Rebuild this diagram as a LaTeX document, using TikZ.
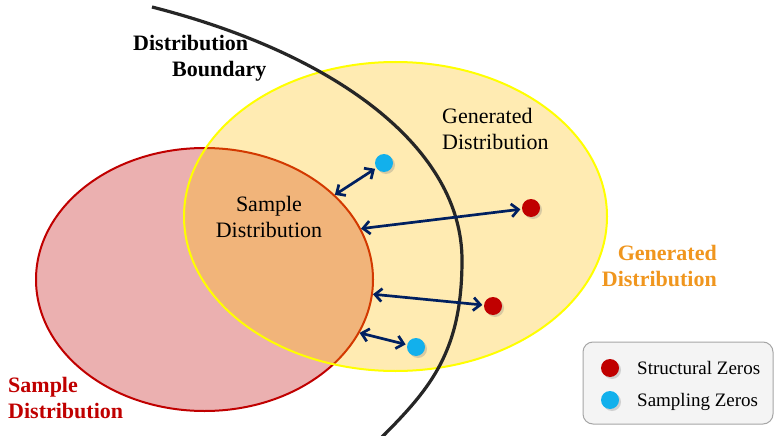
\documentclass[tikz,border=0pt]{standalone}
\usepackage{fontspec}
\setmainfont{Liberation Serif}
\usetikzlibrary{shapes.geometric,arrows.meta,shadows}

\definecolor{samplefill}{RGB}{235,176,176}
\definecolor{samplered}{RGB}{192,0,0}
\definecolor{genfill}{RGB}{255,192,0}
\definecolor{genline}{RGB}{255,255,0}
\definecolor{linknavy}{RGB}{0,32,96}
\definecolor{zeroblue}{RGB}{18,176,236}
\definecolor{labelorange}{RGB}{240,150,30}
\definecolor{boundaryline}{RGB}{38,38,38}
\definecolor{legendfill}{RGB}{244,244,244}
\definecolor{legendline}{RGB}{166,166,166}

\tikzset{
  region/.style={ellipse, inner sep=0pt, line width=2pt},
  zero/.style={circle, inner sep=0pt, minimum size=18pt,
    drop shadow={shadow xshift=2pt, shadow yshift=-2pt, opacity=0.3}},
  structural/.style={zero, fill=samplered},
  sampling/.style={zero, fill=zeroblue},
  link/.style={draw=linknavy, line width=2.7pt,
    {Straight Barb[length=7pt,width=13pt]}-{Straight Barb[length=7pt,width=13pt]},
    shorten >=1.5pt},
  txt/.style={inner sep=0pt, font=\fontsize{22}{26}\selectfont},
  boldtxt/.style={inner sep=0pt, font=\fontsize{22}{26}\selectfont\bfseries},
  legendtxt/.style={inner sep=0pt, font=\fontsize{19}{22}\selectfont},
}

\begin{document}
\begin{tikzpicture}[x=1pt,y=1pt]
  \fill[white] (0,0) rectangle (774,-436);
  \useasboundingbox (0,0) rectangle (774,-436);

  % the two distributions
  \node[region, draw=samplered, fill=samplefill,
        minimum width=337pt, minimum height=263pt] (sample) at (204.5,-279.5) {};
  \node[region, draw=genline, fill=genfill, fill opacity=0.3,
        minimum width=423pt, minimum height=309pt] (generated) at (395.5,-216.5) {};

  % distribution boundary
  \draw[boundaryline, line width=3.2pt]
    (152,-7) .. controls (340,-55) and (462,-150) .. (462,-260)
             .. controls (462,-350) and (432,-387) .. (382,-437);

  % zeros
  \node[sampling]   (b1) at (384,-163) {};
  \node[structural] (r1) at (531,-208) {};
  \node[structural] (r2) at (493,-306) {};
  \node[sampling]   (b2) at (416,-347) {};

  % links from the sample distribution to the zeros
  \draw[link] (sample.33)  -- (b1);
  \draw[link] (sample.18)  -- (r1);
  \draw[link] (sample.355) -- (r2);
  \draw[link] (sample.341) -- (b2);

  % labels
  \node[boldtxt, align=left, anchor=north west] (lbound) at (133,-35)
    {Distribution\\\hspace*{39pt}Boundary};
  \node[txt, align=left, anchor=north west] (lgenin) at (442,-108)
    {Generated\\Distribution};
  \node[txt, align=center, anchor=north] (lsampin) at (269,-196)
    {Sample\\Distribution};
  \node[boldtxt, text=samplered, align=left, anchor=north west] (lsamp) at (8,-377)
    {Sample\\Distribution};
  \node[boldtxt, text=labelorange, align=right, anchor=north east] (lgen) at (717,-245)
    {Generated\\Distribution};

  % legend
  \node[draw=legendline, fill=legendfill, rounded corners=10pt, line width=1pt,
        minimum width=190pt, minimum height=82pt, inner sep=0pt] (legend) at (678,-383) {};
  \node[structural] (kr) at (610,-368) {};
  \node[sampling]   (kb) at (610,-400) {};
  \node[legendtxt, anchor=base west] (kstruct) at (637,-374.3) {Structural Zeros};
  \node[legendtxt, anchor=base west] (ksamp)   at (637,-406.3) {Sampling Zeros};
\end{tikzpicture}
\end{document}
